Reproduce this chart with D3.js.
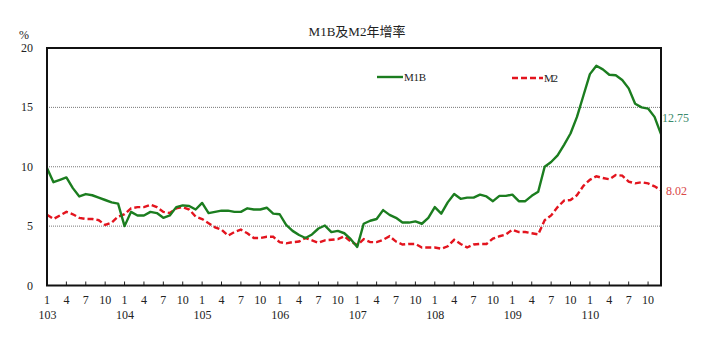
<!DOCTYPE html>
<html>
<head>
<meta charset="utf-8">
<script src="https://cdn.jsdelivr.net/npm/d3@7/dist/d3.min.js"></script>
<style>
  html, body { margin: 0; padding: 0; background: #fff; }
  svg { display: block; }
  text { font-family: "Liberation Serif", "Noto Sans CJK TC", serif; fill: #222; }
</style>
</head>
<body>
<svg id="chart" width="714" height="337"></svg>
<script>
// Monthly year-over-year growth rates (%), ROC years 103–110
const years = ["103", "104", "105", "106", "107", "108", "109", "110"];
const monthLabels = ["1", "4", "7", "10"];
const yTicks = [0, 5, 10, 15, 20];
const gridValues = [5, 10, 15];

const m1b = [
  9.9, 8.7, 8.9, 9.1, 8.2, 7.5, 7.7, 7.6, 7.4, 7.2, 7.0, 6.9,
  5.0, 6.2, 5.9, 5.9, 6.2, 6.1, 5.7, 5.9, 6.6, 6.75, 6.7, 6.4,
  6.95, 6.1, 6.2, 6.3, 6.3, 6.2, 6.2, 6.5, 6.4, 6.4, 6.55, 6.05,
  6.0, 5.1, 4.6, 4.25, 4.0, 4.3, 4.8, 5.05, 4.5, 4.6, 4.4, 3.9,
  3.25, 5.2, 5.45, 5.6, 6.35, 5.95, 5.7, 5.3, 5.3, 5.4, 5.2, 5.7,
  6.6, 6.05, 7.0, 7.7, 7.3, 7.4, 7.4, 7.65, 7.5, 7.1, 7.55, 7.55,
  7.65, 7.1, 7.1, 7.55, 7.9, 10.0, 10.4, 10.95, 11.85, 12.8, 14.2, 16.0,
  17.8, 18.5, 18.2, 17.75, 17.7, 17.3, 16.6, 15.3, 15.0, 14.9, 14.2, 12.75
];

const m2 = [
  5.95, 5.6, 5.9, 6.2, 6.0, 5.7, 5.6, 5.6, 5.5, 5.1, 5.3, 5.8,
  6.0, 6.5, 6.6, 6.6, 6.8, 6.6, 6.2, 6.1, 6.5, 6.6, 6.4, 5.8,
  5.6, 5.25, 4.9, 4.7, 4.2, 4.5, 4.7, 4.4, 4.0, 4.0, 4.1, 4.1,
  3.65, 3.55, 3.65, 3.7, 4.0, 3.8, 3.6, 3.8, 3.85, 3.9, 4.15, 3.7,
  3.4, 3.9, 3.65, 3.65, 3.85, 4.15, 3.7, 3.45, 3.5, 3.5, 3.2, 3.2,
  3.2, 3.1, 3.3, 3.85, 3.5, 3.2, 3.45, 3.5, 3.5, 3.95, 4.15, 4.3,
  4.7, 4.5, 4.5, 4.4, 4.3, 5.5, 5.9, 6.6, 7.15, 7.2, 7.6, 8.4,
  8.9, 9.2, 9.05, 8.95, 9.3, 9.25, 8.75, 8.6, 8.7, 8.6, 8.35, 8.02
];

const seriesNames = ["M1B", "M2"];
const colors = { M1B: "#1b7d1f", M2: "#e3141e" };
const labelColors = { M1B: "#3b8a6c", M2: "#d94848" };

const svg = d3.select("#chart");
const plot = { left: 47, right: 661, top: 48, bottom: 285.5 };

const x = d3.scaleLinear().domain([0, m1b.length - 1]).range([plot.left, plot.right]);
const y = d3.scaleLinear().domain([0, 20]).range([plot.bottom, plot.top]);

// Title and unit
svg.append("text")
  .attr("x", 357).attr("y", 36)
  .attr("text-anchor", "middle")
  .style("font-size", "13px")
  .text("M1B及M2年增率");

svg.append("text")
  .attr("x", 19).attr("y", 39)
  .style("font-size", "12px")
  .text("%");

// Dotted horizontal gridlines
svg.append("g").selectAll("line")
  .data(gridValues).join("line")
  .attr("x1", plot.left).attr("x2", plot.right)
  .attr("y1", d => y(d)).attr("y2", d => y(d))
  .attr("stroke", "#555").attr("stroke-width", 0.8)
  .attr("stroke-dasharray", "1,1");

// Y tick labels
svg.append("g").selectAll("text")
  .data(yTicks).join("text")
  .attr("x", 33).attr("y", d => y(d) + 4)
  .attr("text-anchor", "end")
  .style("font-size", "12px")
  .text(d => d);

// X ticks every three months
const tickIdx = d3.range(0, m1b.length, 3);
svg.append("g").selectAll("line")
  .data(tickIdx).join("line")
  .attr("x1", d => x(d)).attr("x2", d => x(d))
  .attr("y1", plot.bottom).attr("y2", plot.bottom - 4)
  .attr("stroke", "#222").attr("stroke-width", 1);

svg.append("g").selectAll("text")
  .data(tickIdx).join("text")
  .attr("x", d => x(d)).attr("y", 304)
  .attr("text-anchor", "middle")
  .style("font-size", "12px")
  .text(d => monthLabels[(d % 12) / 3]);

svg.append("g").selectAll("text")
  .data(years).join("text")
  .attr("x", (d, i) => x(i * 12) + 0.5).attr("y", 319)
  .attr("text-anchor", "middle")
  .style("font-size", "12px")
  .text(d => d);

// Series lines
const line = d3.line().x((d, i) => x(i)).y(d => y(d));

svg.append("path")
  .datum(m2)
  .attr("d", line)
  .attr("fill", "none")
  .attr("stroke", colors.M2)
  .attr("stroke-width", 2.4)
  .attr("stroke-dasharray", "6,3");

svg.append("path")
  .datum(m1b)
  .attr("d", line)
  .attr("fill", "none")
  .attr("stroke", colors.M1B)
  .attr("stroke-width", 2.4)
  .attr("stroke-linejoin", "round");

// Frame
svg.append("rect")
  .attr("x", plot.left).attr("y", plot.top)
  .attr("width", plot.right - plot.left).attr("height", plot.bottom - plot.top)
  .attr("fill", "none").attr("stroke", "#111").attr("stroke-width", 2);

// End-value labels
const last = m1b.length - 1;
svg.append("text")
  .attr("x", plot.right + 1).attr("y", y(m1b[last]) - 12)
  .style("font-size", "12px").style("fill", labelColors.M1B)
  .text(m1b[last].toFixed(2));
svg.append("text")
  .attr("x", plot.right + 5).attr("y", y(m2[last]) + 5)
  .style("font-size", "12px").style("fill", labelColors.M2)
  .text(m2[last].toFixed(2));

// Legend
const legend = [
  { name: seriesNames[0], x1: 377, x2: 403, y: 77, dash: null },
  { name: seriesNames[1], x1: 512, x2: 543, y: 78, dash: "6,3" }
];
legend.forEach(l => {
  svg.append("line")
    .attr("x1", l.x1).attr("x2", l.x2).attr("y1", l.y).attr("y2", l.y)
    .attr("stroke", colors[l.name]).attr("stroke-width", 2.4)
    .attr("stroke-dasharray", l.dash);
  svg.append("text")
    .attr("x", l.x2 + 1).attr("y", l.y + 4)
    .style("font-size", "11px")
    .attr("textLength", l.name === "M1B" ? 22 : 14)
    .text(l.name);
});
</script>
</body>
</html>
